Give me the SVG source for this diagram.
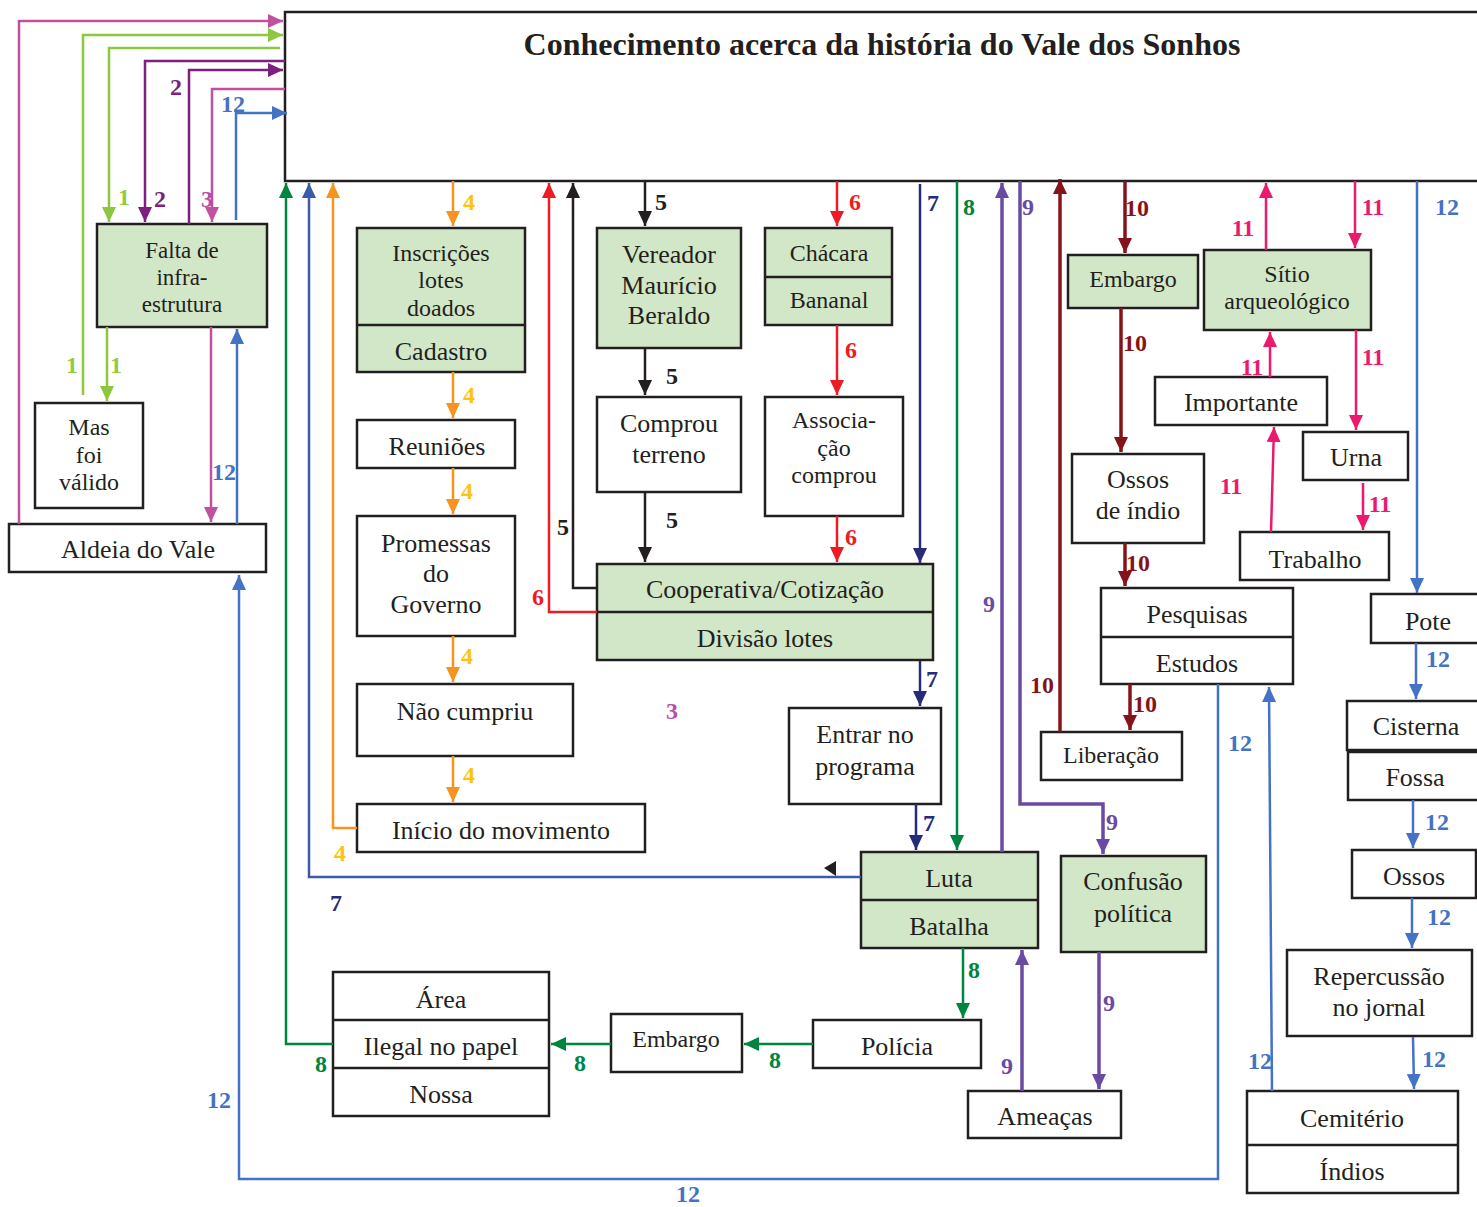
<svg xmlns="http://www.w3.org/2000/svg" width="1477" height="1207" viewBox="0 0 1477 1207">
  <style>
    .box { fill: #ffffff; stroke: #231f20; stroke-width: 2.5; }
    .grn { fill: #d2e7c7; }
    .t { font-family: "Liberation Serif", "Times New Roman", serif; font-size: 26px; fill: #231f20; text-anchor: middle; }
    .sm { font-size: 24px; }
    .n { font-family: "Liberation Serif", "Times New Roman", serif; font-size: 24px; font-weight: bold; text-anchor: middle; }
    .ln { fill: none; stroke-width: 2.5; }
    .thick { stroke-width: 3.5; }
    .c1 { stroke: #8dc63f; } .f1 { fill: #96c93d; }
    .c2 { stroke: #7d1f7e; } .f2 { fill: #7d1f7e; }
    .c3 { stroke: #c1519f; } .f3 { fill: #b94fa5; }
    .c4 { stroke: #f7941d; } .f4 { fill: #ffc20e; }
    .c5 { stroke: #231f20; } .f5 { fill: #231f20; }
    .c6 { stroke: #ed1c24; } .f6 { fill: #ed1c24; }
    .c7 { stroke: #262b7a; } .f7 { fill: #262b7a; }
    .c7b { stroke: #3a5baa; }
    .c8 { stroke: #00853f; } .f8 { fill: #00853f; }
    .c9 { stroke: #6a4ba3; } .f9 { fill: #6a4ba3; }
    .c10 { stroke: #85141a; } .f10 { fill: #85141a; }
    .c11 { stroke: #ec1a6e; } .f11 { fill: #ec1a6e; }
    .c12 { stroke: #4472c4; } .f12 { fill: #4472c4; }
  </style>
  <defs>
    <marker id="a1" markerUnits="userSpaceOnUse" markerWidth="15" markerHeight="14" refX="15" refY="7" orient="auto"><path d="M0,0 L15,7 L0,14 z" fill="#8dc63f"/></marker>
    <marker id="a2" markerUnits="userSpaceOnUse" markerWidth="15" markerHeight="14" refX="15" refY="7" orient="auto"><path d="M0,0 L15,7 L0,14 z" fill="#7d1f7e"/></marker>
    <marker id="a3" markerUnits="userSpaceOnUse" markerWidth="15" markerHeight="14" refX="15" refY="7" orient="auto"><path d="M0,0 L15,7 L0,14 z" fill="#c1519f"/></marker>
    <marker id="a4" markerUnits="userSpaceOnUse" markerWidth="15" markerHeight="14" refX="15" refY="7" orient="auto"><path d="M0,0 L15,7 L0,14 z" fill="#f7941d"/></marker>
    <marker id="a5" markerUnits="userSpaceOnUse" markerWidth="15" markerHeight="14" refX="15" refY="7" orient="auto"><path d="M0,0 L15,7 L0,14 z" fill="#231f20"/></marker>
    <marker id="a6" markerUnits="userSpaceOnUse" markerWidth="15" markerHeight="14" refX="15" refY="7" orient="auto"><path d="M0,0 L15,7 L0,14 z" fill="#ed1c24"/></marker>
    <marker id="a7" markerUnits="userSpaceOnUse" markerWidth="15" markerHeight="14" refX="15" refY="7" orient="auto"><path d="M0,0 L15,7 L0,14 z" fill="#262b7a"/></marker>
    <marker id="a7b" markerUnits="userSpaceOnUse" markerWidth="15" markerHeight="14" refX="15" refY="7" orient="auto"><path d="M0,0 L15,7 L0,14 z" fill="#3a5baa"/></marker>
    <marker id="a8" markerUnits="userSpaceOnUse" markerWidth="15" markerHeight="14" refX="15" refY="7" orient="auto"><path d="M0,0 L15,7 L0,14 z" fill="#00853f"/></marker>
    <marker id="a9" markerUnits="userSpaceOnUse" markerWidth="15" markerHeight="14" refX="15" refY="7" orient="auto"><path d="M0,0 L15,7 L0,14 z" fill="#6a4ba3"/></marker>
    <marker id="a10" markerUnits="userSpaceOnUse" markerWidth="15" markerHeight="14" refX="15" refY="7" orient="auto"><path d="M0,0 L15,7 L0,14 z" fill="#85141a"/></marker>
    <marker id="a11" markerUnits="userSpaceOnUse" markerWidth="15" markerHeight="14" refX="15" refY="7" orient="auto"><path d="M0,0 L15,7 L0,14 z" fill="#ec1a6e"/></marker>
    <marker id="a12" markerUnits="userSpaceOnUse" markerWidth="15" markerHeight="14" refX="15" refY="7" orient="auto"><path d="M0,0 L15,7 L0,14 z" fill="#4472c4"/></marker>
  </defs>

  <rect width="1477" height="1207" fill="#ffffff"/>

  <!-- central theme -->
  <g id="tema">
    <rect class="box" x="285" y="12" width="1210" height="169" stroke-width="2"/>
    <text class="t" x="882" y="55" style="font-size:32px;font-weight:bold">Conhecimento acerca da história do Vale dos Sonhos</text>
  </g>

  <!-- nodes -->
  <g id="falta">
    <rect class="box grn" x="97" y="224" width="170" height="103"/>
    <text class="t" style="font-size:23px" x="182"><tspan x="182" y="258">Falta de</tspan><tspan x="182" y="285">infra-</tspan><tspan x="182" y="312">estrutura</tspan></text>
  </g>
  <g id="mas-foi-valido">
    <rect class="box" x="35" y="403" width="108" height="105"/>
    <text class="t sm"><tspan x="89" y="435">Mas</tspan><tspan x="89" y="463">foi</tspan><tspan x="89" y="490">válido</tspan></text>
  </g>
  <g id="aldeia">
    <rect class="box" x="9" y="524" width="257" height="48"/>
    <text class="t" x="138" y="558">Aldeia do Vale</text>
  </g>
  <g id="inscricoes">
    <rect class="box grn" x="357" y="228" width="168" height="144"/>
    <line x1="357" y1="325" x2="525" y2="325" stroke="#231f20" stroke-width="2.5"/>
    <text class="t sm"><tspan x="441" y="261">Inscrições</tspan><tspan x="441" y="288">lotes</tspan><tspan x="441" y="316">doados</tspan></text>
    <text class="t" x="441" y="360">Cadastro</text>
  </g>
  <g id="reunioes">
    <rect class="box" x="357" y="420" width="158" height="48"/>
    <text class="t" x="437" y="455">Reuniões</text>
  </g>
  <g id="promessas">
    <rect class="box" x="357" y="516" width="158" height="120"/>
    <text class="t"><tspan x="436" y="552">Promessas</tspan><tspan x="436" y="582">do</tspan><tspan x="436" y="613">Governo</tspan></text>
  </g>
  <g id="nao-cumpriu">
    <rect class="box" x="357" y="684" width="216" height="72"/>
    <text class="t" x="465" y="720">Não cumpriu</text>
  </g>
  <g id="inicio">
    <rect class="box" x="357" y="804" width="288" height="48"/>
    <text class="t" x="501" y="839">Início do movimento</text>
  </g>
  <g id="vereador">
    <rect class="box grn" x="597" y="228" width="144" height="120"/>
    <text class="t"><tspan x="669" y="263">Vereador</tspan><tspan x="669" y="294">Maurício</tspan><tspan x="669" y="324">Beraldo</tspan></text>
  </g>
  <g id="comprou">
    <rect class="box" x="597" y="397" width="144" height="95"/>
    <text class="t"><tspan x="669" y="432">Comprou</tspan><tspan x="669" y="463">terreno</tspan></text>
  </g>
  <g id="chacara">
    <rect class="box grn" x="765" y="228" width="127" height="97"/>
    <line x1="765" y1="277" x2="892" y2="277" stroke="#231f20" stroke-width="2.5"/>
    <text class="t sm" x="829" y="261">Chácara</text>
    <text class="t sm" x="829" y="308">Bananal</text>
  </g>
  <g id="associacao">
    <rect class="box" x="765" y="397" width="138" height="119"/>
    <text class="t sm"><tspan x="834" y="428">Associa-</tspan><tspan x="834" y="456">ção</tspan><tspan x="834" y="483">comprou</tspan></text>
  </g>
  <g id="cooperativa">
    <rect class="box grn" x="597" y="564" width="336" height="96"/>
    <line x1="597" y1="612" x2="933" y2="612" stroke="#231f20" stroke-width="2.5"/>
    <text class="t" x="765" y="598">Cooperativa/Cotização</text>
    <text class="t" x="765" y="647">Divisão lotes</text>
  </g>
  <g id="entrar">
    <rect class="box" x="789" y="708" width="152" height="96"/>
    <text class="t"><tspan x="865" y="743">Entrar no</tspan><tspan x="865" y="775">programa</tspan></text>
  </g>
  <g id="luta">
    <rect class="box grn" x="861" y="852" width="177" height="96"/>
    <line x1="861" y1="900" x2="1038" y2="900" stroke="#231f20" stroke-width="2.5"/>
    <text class="t" x="949" y="887">Luta</text>
    <text class="t" x="949" y="935">Batalha</text>
  </g>
  <g id="confusao">
    <rect class="box grn" x="1061" y="856" width="145" height="96"/>
    <text class="t"><tspan x="1133" y="890">Confusão</tspan><tspan x="1133" y="922">política</tspan></text>
  </g>
  <g id="area">
    <rect class="box" x="333" y="972" width="216" height="144"/>
    <line x1="333" y1="1020" x2="549" y2="1020" stroke="#231f20" stroke-width="2.5"/>
    <line x1="333" y1="1068" x2="549" y2="1068" stroke="#231f20" stroke-width="2.5"/>
    <text class="t" x="441" y="1008">Área</text>
    <text class="t" x="441" y="1055">Ilegal no papel</text>
    <text class="t" x="441" y="1103">Nossa</text>
  </g>
  <g id="embargo-baixo">
    <rect class="box" x="611" y="1014" width="131" height="58"/>
    <text class="t sm" x="676" y="1047">Embargo</text>
  </g>
  <g id="policia">
    <rect class="box" x="813" y="1020" width="168" height="48"/>
    <text class="t" x="897" y="1055">Polícia</text>
  </g>
  <g id="ameacas">
    <rect class="box" x="968" y="1091" width="153" height="47"/>
    <text class="t" x="1045" y="1125">Ameaças</text>
  </g>
  <g id="embargo-alto">
    <rect class="box grn" x="1068" y="255" width="130" height="53"/>
    <text class="t sm" x="1133" y="287">Embargo</text>
  </g>
  <g id="sitio">
    <rect class="box grn" x="1204" y="250" width="167" height="80"/>
    <text class="t sm"><tspan x="1287" y="282">Sítio</tspan><tspan x="1287" y="309">arqueológico</tspan></text>
  </g>
  <g id="importante">
    <rect class="box" x="1155" y="377" width="172" height="48"/>
    <text class="t" x="1241" y="411">Importante</text>
  </g>
  <g id="urna">
    <rect class="box" x="1303" y="432" width="105" height="48"/>
    <text class="t" x="1356" y="466">Urna</text>
  </g>
  <g id="ossos-indio">
    <rect class="box" x="1072" y="454" width="132" height="89"/>
    <text class="t"><tspan x="1138" y="488">Ossos</tspan><tspan x="1138" y="519">de índio</tspan></text>
  </g>
  <g id="trabalho">
    <rect class="box" x="1240" y="532" width="149" height="48"/>
    <text class="t" x="1315" y="568">Trabalho</text>
  </g>
  <g id="pesquisas">
    <rect class="box" x="1101" y="588" width="192" height="96"/>
    <line x1="1101" y1="637" x2="1293" y2="637" stroke="#231f20" stroke-width="2.5"/>
    <text class="t" x="1197" y="623">Pesquisas</text>
    <text class="t" x="1197" y="672">Estudos</text>
  </g>
  <g id="liberacao">
    <rect class="box" x="1041" y="732" width="141" height="48"/>
    <text class="t sm" x="1111" y="763">Liberação</text>
  </g>
  <g id="pote">
    <rect class="box" x="1371" y="594" width="120" height="49"/>
    <text class="t" x="1428" y="630">Pote</text>
  </g>
  <g id="cisterna">
    <rect class="box" x="1347" y="701" width="140" height="49"/>
    <rect class="box" x="1348" y="752" width="140" height="48"/>
    <text class="t" x="1416" y="735">Cisterna</text>
    <text class="t" x="1415" y="786">Fossa</text>
  </g>
  <g id="ossos">
    <rect class="box" x="1352" y="850" width="124" height="48"/>
    <text class="t" x="1414" y="885">Ossos</text>
  </g>
  <g id="repercussao">
    <rect class="box" x="1287" y="950" width="185" height="86"/>
    <text class="t"><tspan x="1379" y="985">Repercussão</tspan><tspan x="1379" y="1016">no jornal</tspan></text>
  </g>
  <g id="cemiterio">
    <rect class="box" x="1247" y="1091" width="211" height="102"/>
    <line x1="1247" y1="1145" x2="1458" y2="1145" stroke="#231f20" stroke-width="2.5"/>
    <text class="t" x="1352" y="1127">Cemitério</text>
    <text class="t" x="1352" y="1180">Índios</text>
  </g>

  <!-- connectors -->
  <g id="conectores">
    <!-- 1 -->
    <path class="ln c1" d="M83,395 V35 H283" marker-end="url(#a1)"/>
    <path class="ln c1" d="M280,48 H109 V222" marker-end="url(#a1)"/>
    <path class="ln c1" d="M107,327 V401" marker-end="url(#a1)"/>
    <!-- 2 -->
    <path class="ln c2" d="M285,61 H145 V222" marker-end="url(#a2)"/>
    <path class="ln c2" d="M189,224 V70 H283" marker-end="url(#a2)"/>
    <!-- 3 -->
    <path class="ln c3" d="M19,524 V21 H283" marker-end="url(#a3)"/>
    <path class="ln c3" d="M285,89 H212 V222" marker-end="url(#a3)"/>
    <path class="ln c3" d="M211,327 V522" marker-end="url(#a3)"/>
    <!-- 4 -->
    <path class="ln c4" d="M453,181 V226" marker-end="url(#a4)"/>
    <path class="ln c4" d="M453,372 V418" marker-end="url(#a4)"/>
    <path class="ln c4" d="M453,468 V514" marker-end="url(#a4)"/>
    <path class="ln c4" d="M453,636 V682" marker-end="url(#a4)"/>
    <path class="ln c4" d="M453,756 V802" marker-end="url(#a4)"/>
    <path class="ln c4" d="M357,828 H333 V183" marker-end="url(#a4)"/>
    <!-- 5 -->
    <path class="ln c5" d="M645,181 V226" marker-end="url(#a5)"/>
    <path class="ln c5" d="M645,349 V395" marker-end="url(#a5)"/>
    <path class="ln c5" d="M645,492 V562" marker-end="url(#a5)"/>
    <path class="ln c5" d="M597,588 H573 V183" marker-end="url(#a5)"/>
    <!-- 6 -->
    <path class="ln c6" d="M837,181 V226" marker-end="url(#a6)"/>
    <path class="ln c6" d="M837,325 V395" marker-end="url(#a6)"/>
    <path class="ln c6" d="M837,516 V562" marker-end="url(#a6)"/>
    <path class="ln c6" d="M597,612 H549 V183" marker-end="url(#a6)"/>
    <!-- 7 -->
    <path class="ln c7" d="M920,184 V563" marker-end="url(#a7)"/>
    <path class="ln c7" d="M920,661 V706" marker-end="url(#a7)"/>
    <path class="ln c7" d="M916,804 V850" marker-end="url(#a7)"/>
    <path class="ln c7b" d="M861,877 H309 V183" marker-end="url(#a7b)"/>
    <path d="M824,868 L836,861 L836,876 z" fill="#231f20"/>
    <!-- 8 -->
    <path class="ln c8" d="M957,181 V850" marker-end="url(#a8)"/>
    <path class="ln c8" d="M963,948 V1018" marker-end="url(#a8)"/>
    <path class="ln c8" d="M813,1044 H744" marker-end="url(#a8)"/>
    <path class="ln c8" d="M611,1044 H551" marker-end="url(#a8)"/>
    <path class="ln c8" d="M333,1044 H286 V183" marker-end="url(#a8)"/>
    <!-- 9 -->
    <path class="ln thick c9" d="M1002,852 V183" marker-end="url(#a9)"/>
    <path class="ln thick c9" d="M1020,181 V804 H1103 V854" marker-end="url(#a9)"/>
    <path class="ln thick c9" d="M1099,952 V1089" marker-end="url(#a9)"/>
    <path class="ln thick c9" d="M1022,1091 V950" marker-end="url(#a9)"/>
    <!-- 10 -->
    <path class="ln thick c10" d="M1125,181 V253" marker-end="url(#a10)"/>
    <path class="ln thick c10" d="M1121,308 V452" marker-end="url(#a10)"/>
    <path class="ln thick c10" d="M1125,543 V586" marker-end="url(#a10)"/>
    <path class="ln thick c10" d="M1130,684 V730" marker-end="url(#a10)"/>
    <path class="ln thick c10" d="M1060,732 V179" marker-end="url(#a10)"/>
    <!-- 11 -->
    <path class="ln c11" d="M1266,250 V183" marker-end="url(#a11)"/>
    <path class="ln c11" d="M1355,181 V248" marker-end="url(#a11)"/>
    <path class="ln c11" d="M1270,377 V332" marker-end="url(#a11)"/>
    <path class="ln c11" d="M1356,330 V430" marker-end="url(#a11)"/>
    <path class="ln c11" d="M1271,532 L1274,427" marker-end="url(#a11)"/>
    <path class="ln c11" d="M1363,483 V530" marker-end="url(#a11)"/>
    <!-- 12 -->
    <path class="ln c12" d="M236,220 V113 H287" marker-end="url(#a12)"/>
    <path class="ln c12" d="M237,524 V329" marker-end="url(#a12)"/>
    <path class="ln c12" d="M1218,684 V1179 H239 V575" marker-end="url(#a12)"/>
    <path class="ln c12" d="M1272,1091 L1269,687" marker-end="url(#a12)"/>
    <path class="ln c12" d="M1417,181 V593" marker-end="url(#a12)"/>
    <path class="ln c12" d="M1416,643 V699" marker-end="url(#a12)"/>
    <path class="ln c12" d="M1413,800 V848" marker-end="url(#a12)"/>
    <path class="ln c12" d="M1412,898 V948" marker-end="url(#a12)"/>
    <path class="ln c12" d="M1413,1037 L1414,1089" marker-end="url(#a12)"/>
  </g>

  <!-- connector numbers -->
  <g id="numeros">
    <text class="n f1" x="72" y="373">1</text>
    <text class="n f1" x="124" y="205">1</text>
    <text class="n f1" x="116" y="373">1</text>
    <text class="n f2" x="176" y="95">2</text>
    <text class="n f2" x="160" y="207">2</text>
    <text class="n f3" x="207" y="207">3</text>
    <text class="n f3" x="672" y="719">3</text>
    <text class="n f4" x="469" y="210">4</text>
    <text class="n f4" x="469" y="403">4</text>
    <text class="n f4" x="467" y="499">4</text>
    <text class="n f4" x="467" y="664">4</text>
    <text class="n f4" x="469" y="783">4</text>
    <text class="n f4" x="340" y="861">4</text>
    <text class="n f5" x="661" y="210">5</text>
    <text class="n f5" x="672" y="384">5</text>
    <text class="n f5" x="672" y="528">5</text>
    <text class="n f5" x="563" y="535">5</text>
    <text class="n f6" x="855" y="210">6</text>
    <text class="n f6" x="851" y="358">6</text>
    <text class="n f6" x="851" y="545">6</text>
    <text class="n f6" x="538" y="605">6</text>
    <text class="n f7" x="933" y="211">7</text>
    <text class="n f7" x="932" y="687">7</text>
    <text class="n f7" x="929" y="831">7</text>
    <text class="n f7" x="336" y="911">7</text>
    <text class="n f8" x="969" y="215">8</text>
    <text class="n f8" x="974" y="978">8</text>
    <text class="n f8" x="775" y="1068">8</text>
    <text class="n f8" x="580" y="1071">8</text>
    <text class="n f8" x="321" y="1072">8</text>
    <text class="n f9" x="1028" y="215">9</text>
    <text class="n f9" x="989" y="612">9</text>
    <text class="n f9" x="1112" y="830">9</text>
    <text class="n f9" x="1109" y="1011">9</text>
    <text class="n f9" x="1007" y="1074">9</text>
    <text class="n f10" x="1137" y="216">10</text>
    <text class="n f10" x="1135" y="351">10</text>
    <text class="n f10" x="1138" y="571">10</text>
    <text class="n f10" x="1145" y="712">10</text>
    <text class="n f10" x="1042" y="693">10</text>
    <text class="n f11" x="1243" y="236">11</text>
    <text class="n f11" x="1373" y="215">11</text>
    <text class="n f11" x="1252" y="375">11</text>
    <text class="n f11" x="1373" y="365">11</text>
    <text class="n f11" x="1231" y="494">11</text>
    <text class="n f11" x="1380" y="512">11</text>
    <text class="n f12" x="233" y="112">12</text>
    <text class="n f12" x="224" y="480">12</text>
    <text class="n f12" x="1240" y="751">12</text>
    <text class="n f12" x="1260" y="1069">12</text>
    <text class="n f12" x="219" y="1108">12</text>
    <text class="n f12" x="688" y="1202">12</text>
    <text class="n f12" x="1447" y="215">12</text>
    <text class="n f12" x="1438" y="667">12</text>
    <text class="n f12" x="1437" y="830">12</text>
    <text class="n f12" x="1439" y="925">12</text>
    <text class="n f12" x="1434" y="1067">12</text>
  </g>
</svg>
